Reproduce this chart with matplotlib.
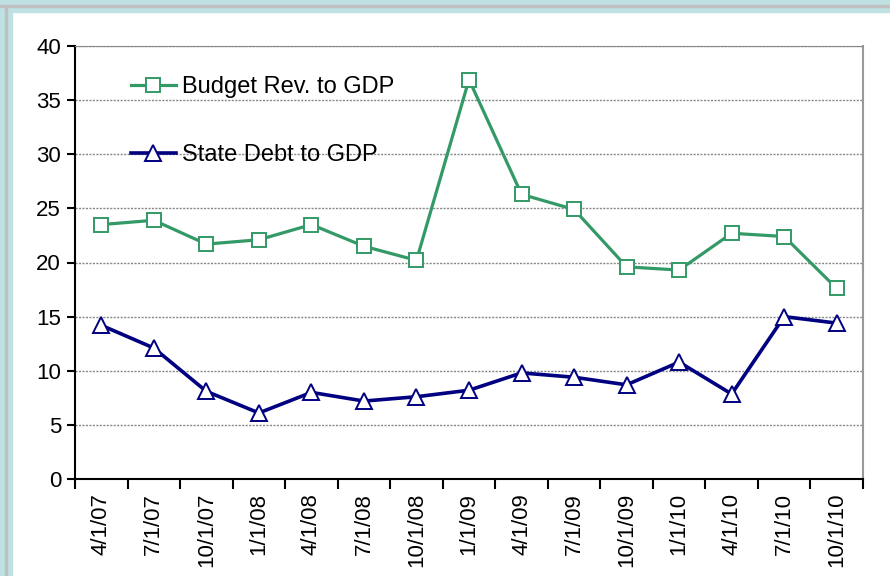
import numpy as np
import matplotlib.pyplot as plt
from matplotlib.patches import Rectangle

plt.rcParams['font.family'] = ['Liberation Sans', 'DejaVu Sans']

# quarterly dates and the two ratios (percent)
dates = ['4/1/07', '7/1/07', '10/1/07', '1/1/08', '4/1/08', '7/1/08', '10/1/08',
         '1/1/09', '4/1/09', '7/1/09', '10/1/09', '1/1/10', '4/1/10', '7/1/10', '10/1/10']
budget_rev = [23.5, 23.9, 21.7, 22.1, 23.5, 21.5, 20.2, 36.9, 26.3, 24.9, 19.6, 19.3, 22.7, 22.4, 17.6]
state_debt = [14.2, 12.1, 8.1, 6.1, 8.0, 7.2, 7.6, 8.2, 9.8, 9.4, 8.7, 10.8, 7.85, 15.0, 14.4]

green = '#339966'
navy = '#000080'

fig = plt.figure(figsize=(8.9, 5.76), dpi=100)
fig.patch.set_facecolor('white')

# slide-like border on top and left
band = '#bfe1e4'
fig.add_artist(Rectangle((0, 1 - 12/576), 1, 12/576, transform=fig.transFigure, color=band, zorder=0))
fig.add_artist(Rectangle((0, 0), 12/890, 1, transform=fig.transFigure, color=band, zorder=0))
fig.add_artist(Rectangle((0, 1 - 7/576), 1, 2/576, transform=fig.transFigure, color='#c0c0c0', zorder=1))
fig.add_artist(Rectangle((5/890, 0), 2/890, 1 - 5/576, transform=fig.transFigure, color='#c0c0c0', zorder=1))

ax = fig.add_axes([75/890, 97/576, 788/890, 433/576])
x = np.arange(len(dates))

ax.plot(x, budget_rev, color=green, lw=2.3, marker='s', ms=10.5, mfc='white',
        mec=green, mew=1.4, label='Budget Rev. to GDP', zorder=3)
ax.plot(x, state_debt, color=navy, lw=2.6, marker='^', ms=12, mfc='white',
        mec=navy, mew=1.4, label='State Debt to GDP', zorder=3)

ax.set_xlim(-0.5, len(dates) - 0.5)
ax.set_ylim(0, 40)
ax.set_yticks(np.arange(0, 41, 5))
ax.yaxis.grid(True, color='#888888', ls=(0, (1.5, 1)), lw=1)
ax.set_axisbelow(True)

ax.set_xticks(x)
ax.set_xticklabels(dates, rotation=90, fontsize=16)
ax.set_xticks(np.arange(-0.5, len(dates)), minor=True)
ax.tick_params(axis='x', which='major', length=0, pad=10)
ax.tick_params(axis='x', which='minor', length=7, width=1.5, direction='out')
ax.tick_params(axis='y', labelsize=16, length=6, width=1.5, direction='out', pad=4)

for s in ['left', 'bottom']:
    ax.spines[s].set_linewidth(1.5)
    ax.spines[s].set_color('black')
ax.spines['top'].set_color('#888888')
ax.spines['top'].set_linestyle((0, (1.5, 1)))
ax.spines['right'].set_color('#999999')
ax.spines['right'].set_linewidth(1.5)

ax.legend(loc='upper left', bbox_to_anchor=(0.059, 0.952), frameon=False, fontsize=17,
          handlelength=1.9, handletextpad=0.25, labelspacing=1.93, borderaxespad=0)

fig.savefig('out.png', dpi=100)
